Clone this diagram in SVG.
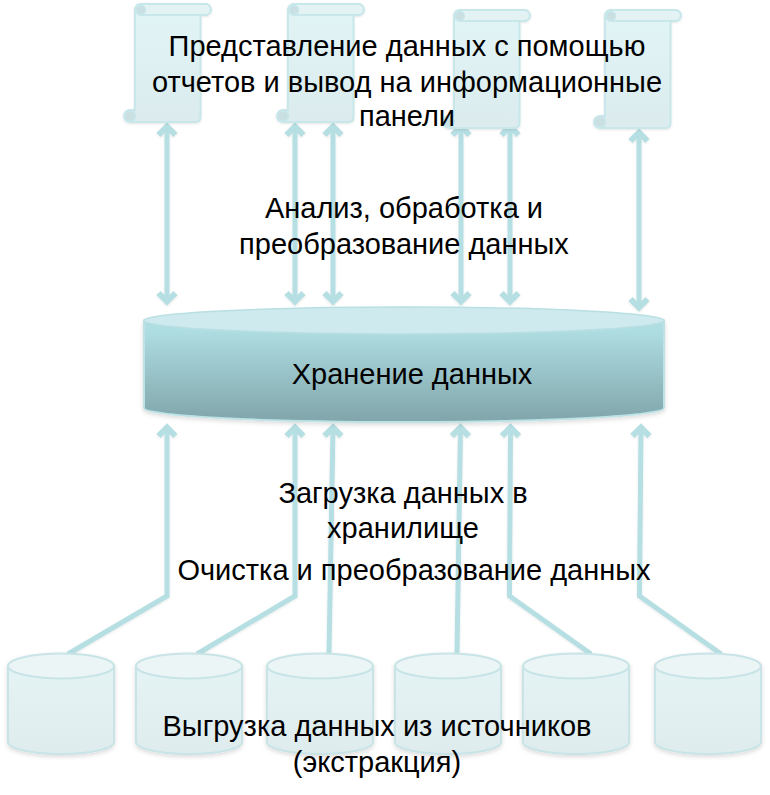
<svg xmlns="http://www.w3.org/2000/svg" width="770" height="795" viewBox="0 0 770 795">
<style>
text{font-family:"Liberation Sans",Arial,sans-serif;font-size:29px;fill:#000;text-anchor:middle}
.c{fill:none;stroke:#b6dfe3;stroke-width:5;stroke-linejoin:miter}
.sb{fill:url(#sg);stroke:#c8e7ea;stroke-width:2}
.st{fill:#e3f3f4;stroke:#c8e7ea;stroke-width:2}
.sc{fill:#c9dfe2;stroke:#c8e7ea;stroke-width:1.500}
.cy{fill:url(#cg);stroke:#c8e4e7;stroke-width:2}
.ct{fill:#ebf5f6;stroke:#c8e4e7;stroke-width:2}
</style>
<defs>
<linearGradient id="sg" x1="0" y1="0" x2="0" y2="1"><stop offset="0" stop-color="#e2f5f6"/><stop offset="1" stop-color="#dbebee"/></linearGradient>
<linearGradient id="cg" x1="0" y1="0" x2="0" y2="1"><stop offset="0" stop-color="#e4f3f4"/><stop offset="1" stop-color="#dfecee"/></linearGradient>
<linearGradient id="dg" x1="0" y1="0" x2="0" y2="1"><stop offset="0.1" stop-color="#aedde2"/><stop offset="1" stop-color="#80a5aa"/></linearGradient>
<filter id="sh" x="-5%" y="-5%" width="110%" height="115%"><feDropShadow dx="0" dy="2" stdDeviation="2" flood-color="#000" flood-opacity="0.14"/></filter>
<filter id="shl" x="-5%" y="-5%" width="110%" height="110%"><feDropShadow dx="0" dy="1" stdDeviation="1" flood-color="#000" flood-opacity="0.1"/></filter>
<marker id="ah" markerUnits="userSpaceOnUse" viewBox="0 0 20 24" refX="11.500" refY="12" markerWidth="20" markerHeight="24" orient="auto-start-reverse"><path d="M3.500 3.500L12 12L3.500 20.500" fill="none" stroke="#b6dfe3" stroke-width="6"/></marker>
<symbol id="scroll" overflow="visible">
<path class="sb" d="M135 9V110H130A6 6 0 0 0 130 122H195Q200.500 122 200.500 117V15H205A5.500 5.500 0 0 0 205 4H141A6 6 0 0 0 135 9Z"/>
<path class="st" d="M141 4H205.500A5.500 5.500 0 0 1 205.500 15H141A5.500 5.500 0 0 1 141 4Z"/>
<circle class="sc" cx="141" cy="10" r="4.500"/>
<circle class="sc" cx="130" cy="116" r="5.500"/>
</symbol>
<symbol id="cyl" overflow="visible">
<path class="cy" d="M8 666V742A53 12 0 0 0 114 742V666Z"/>
<ellipse class="ct" cx="61" cy="666" rx="53" ry="12.500"/>
</symbol>
</defs>
<g id="connectors" filter="url(#shl)">
<path class="c" marker-start="url(#ah)" marker-end="url(#ah)" d="M167 127V301"/>
<path class="c" marker-start="url(#ah)" marker-end="url(#ah)" d="M295 127V301"/>
<path class="c" marker-start="url(#ah)" marker-end="url(#ah)" d="M333 127V301"/>
<path class="c" marker-start="url(#ah)" marker-end="url(#ah)" d="M461 127V301"/>
<path class="c" marker-start="url(#ah)" marker-end="url(#ah)" d="M510 127V301"/>
<path class="c" marker-start="url(#ah)" marker-end="url(#ah)" d="M639 133V307"/>
<path class="c" marker-start="url(#ah)" d="M167 428V596L68 654"/>
<path class="c" marker-start="url(#ah)" d="M295 428V596L197 654"/>
<path class="c" marker-start="url(#ah)" d="M333 428L329 654"/>
<path class="c" marker-start="url(#ah)" d="M460.500 428L457 654"/>
<path class="c" marker-start="url(#ah)" d="M510.500 428L509.500 596L591 654"/>
<path class="c" marker-start="url(#ah)" d="M641 428L639.500 596L721 654"/>
</g>
<g id="report-1" filter="url(#shl)"><use href="#scroll"/></g>
<g id="report-2" filter="url(#shl)"><use href="#scroll" x="153"/></g>
<g id="report-3" filter="url(#shl)"><use href="#scroll" x="319" y="6"/></g>
<g id="report-4" filter="url(#shl)"><use href="#scroll" x="470" y="6"/></g>
<g id="storage">
<g filter="url(#sh)">
<path d="M144 320.500V408A260 14 0 0 0 664 408V320.500Z" fill="url(#dg)" stroke="#bde2e6" stroke-width="2"/>
</g>
<ellipse cx="404" cy="320.500" rx="260" ry="13.500" fill="#cfeaee" stroke="#b8dfe3" stroke-width="1.500"/>
<text x="412" y="384">Хранение данных</text>
</g>
<g id="source-1" filter="url(#sh)"><use href="#cyl"/></g>
<g id="source-2" filter="url(#sh)"><use href="#cyl" x="128"/></g>
<g id="source-3" filter="url(#sh)"><use href="#cyl" x="259"/></g>
<g id="source-4" filter="url(#sh)"><use href="#cyl" x="387"/></g>
<g id="source-5" filter="url(#sh)"><use href="#cyl" x="515"/></g>
<g id="source-6" filter="url(#sh)"><use href="#cyl" x="647"/></g>
<g id="labels">
<text x="407" y="56">Представление данных с помощью</text>
<text x="407" y="92">отчетов и вывод на информационные</text>
<text x="407" y="126">панели</text>
<text x="404" y="218">Анализ, обработка и</text>
<text x="404" y="254">преобразование данных</text>
<text x="403" y="503">Загрузка данных в</text>
<text x="403" y="538">хранилище</text>
<text x="414" y="580">Очистка и преобразование данных</text>
<text x="377" y="736">Выгрузка данных из источников</text>
<text x="377" y="772">(экстракция)</text>
</g>
</svg>
